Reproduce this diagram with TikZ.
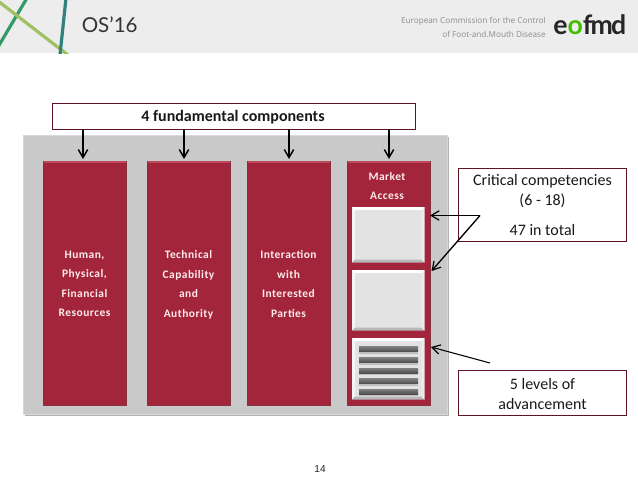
\documentclass[tikz,border=0pt]{standalone}
\usepackage{fontspec}
\setmainfont{Carlito}
\newfontfamily\hdfont{Lato}
\newfontfamily\subfont{Open Sans}
\newfontfamily\numfont{Liberation Sans}
\usetikzlibrary{arrows.meta,calc}
\definecolor{crimson}{HTML}{A3253B}
\definecolor{crimsonlt}{HTML}{BC4A5C}
\definecolor{crimsondk}{HTML}{84303F}
\definecolor{panel}{HTML}{C9C9C9}
\definecolor{panellt}{HTML}{D8D8D8}
\definecolor{panelsh}{HTML}{B4B4B4}
\definecolor{wbox}{HTML}{E3E3E3}
\definecolor{barc}{HTML}{575757}
\definecolor{frame}{HTML}{5E1420}
\definecolor{hdr}{HTML}{EDEDED}
\tikzset{
  colbox/.style={fill=crimson,draw=crimsondk,line width=0.6pt,minimum width=62.25pt,minimum height=183pt,inner sep=0pt,anchor=north west},
  collabel/.style={text=white!92!red,font=\fontsize{8.6}{14.6}\selectfont\bfseries\addfontfeatures{LetterSpace=4},align=center},
  wh/.style={fill=wbox,draw=none,minimum width=54pt,inner sep=0pt,anchor=north west},
  callout/.style={draw=frame,fill=white,line width=0.7pt,inner sep=0pt,anchor=north west},
  calltext/.style={font=\fontsize{12}{15}\selectfont,align=center,text=black!90},
  arr/.style={-{Straight Barb[length=6pt,width=7pt,line width=1.1pt]},line width=1.1pt,black},
  thinarr/.style={-{Straight Barb[length=6pt,width=7pt,line width=0.9pt]},line width=0.8pt,black},
}
\begin{document}
\begin{tikzpicture}[x=0.75pt,y=-0.75pt]
\useasboundingbox (0,0) rectangle (638,479);
\fill[white] (0,0) rectangle (638,479);
% header band
\fill[hdr] (0,0) rectangle (638,53);
\begin{scope}
\clip (0,0) rectangle (638,53);
\draw[line width=2.4pt,color=green!35!teal!60!gray] (27,-2) -- (-2,47);
\draw[line width=2.4pt,color=olive!55!green!60] (-2,1) -- (68,55);
\draw[line width=2.4pt,color=teal!60!gray] (66,-2) -- (60,55);
\end{scope}
\node[font=\fontsize{15.4}{18}\selectfont\hdfont,text=black!80,anchor=west,inner sep=0pt] (os) at (81.5,25) {OS’16};
\node[font=\fontsize{6.15}{10.4}\selectfont\subfont,text=black!45,align=right,anchor=east,inner sep=0pt] (ec) at (546,27) {European Commission for the Control\\of Foot-and.Mouth Disease};
\node[font=\fontsize{20}{21}\selectfont\hdfont\bfseries,text=black!85,anchor=west,inner sep=0pt] (logo) at (553,25) {\addfontfeatures{LetterSpace=-7}e\textcolor{green!50!olive}{o}fmd};
% grey panel
\fill[panelsh] (25,137) rectangle (449,416);
\node[fill=panel,draw=panellt,line width=0.8pt,minimum width=318pt,minimum height=209.5pt,inner sep=0pt,anchor=north west] (panelbox) at (23,135) {};
% columns
\node[colbox] (c1) at (43,161) {};
\node[colbox] (c2) at (147,161) {};
\node[colbox] (c3) at (247,161) {};
\node[colbox] (c4) at (347,161) {};
\foreach \n in {c1,c2,c3,c4}{
  \draw[crimsonlt,line width=1.1pt] ($(\n.north west)+(1,1)$) -- ($(\n.north east)+(-1,1)$);
}
\node[collabel] (l1) at (84.5,284) {Human,\\Physical,\\Financial\\Resources};
\node[collabel] (l2) at (188.5,285) {Technical\\Capability\\and\\Authority};
\node[collabel] (l3) at (288.5,284) {Interaction\\with\\Interested\\Parties};
\node[collabel] (l4) at (387,186) {Market\\Access};
% white boxes
\foreach \nm/\ya/\h in {w1/207/41.25pt,w2/270/45pt,w3/338/45.75pt}{
  \node[wh,minimum height=\h] (\nm) at (352,\ya) {};
  \fill[white] (\nm.north west) -- (\nm.north east) -- ($(\nm.north east)+(-3,3)$) -- ($(\nm.north west)+(3,3)$) -- cycle;
  \fill[white!92!gray] (\nm.north west) -- (\nm.south west) -- ($(\nm.south west)+(3,-3)$) -- ($(\nm.north west)+(3,3)$) -- cycle;
  \fill[black!28] (\nm.south west) -- (\nm.south east) -- ($(\nm.south east)+(-3,-3)$) -- ($(\nm.south west)+(3,-3)$) -- cycle;
  \fill[white!85!gray] (\nm.north east) -- (\nm.south east) -- ($(\nm.south east)+(-3,-3)$) -- ($(\nm.north east)+(-3,3)$) -- cycle;
}
\foreach \yy in {349,360,370.5,381,391.5}{
  \fill[black!25] (359,\yy+2.5) rectangle (418,\yy+4.5);
  \shade[top color=black!50,bottom color=barc!90!black] (359,\yy-2.5) rectangle (418,\yy+2.5);
}
% top box
\node[callout,minimum width=272.25pt,minimum height=19.5pt] (top) at (52,103) {};
\node[font=\fontsize{12}{14}\selectfont\bfseries,text=black!90] (toplabel) at (233,117) {4 fundamental components};
% right boxes
\node[callout,minimum width=126pt,minimum height=54.75pt] (crit) at (458,168) {};
\node[calltext] (critlabel) at (542.5,191.5) {Critical competencies\\(6 - 18)};
\node[calltext] (crittotal) at (542.5,230) {47 in total};
\node[callout,minimum width=126pt,minimum height=33.75pt] (five) at (458,370) {};
\node[calltext,font=\fontsize{12}{14.5}\selectfont] (fivelabel) at (542.5,394) {5 levels of\\advancement};
% arrows
\foreach \x/\t in {83/a1,184/a2,289/a3,389/a4}{
  \coordinate (s\t) at (\x,129);
  \coordinate (e\t) at (\x,159);
  \draw[arr] (s\t) -- (e\t);
}
\coordinate (hub) at (480,215.5);
\coordinate (t1) at (430,215.5);
\coordinate (t2) at (431.5,271);
\coordinate (lvs) at (490,363);
\coordinate (lve) at (431,347);
\draw[thinarr] (hub) -- (t1);
\draw[thinarr,line width=1pt] (hub) -- (t2);
\draw[thinarr] (lvs) -- (lve);
% page number
\node[font=\fontsize{7.6}{9}\selectfont\numfont,text=black!85] (pg) at (320,469) {14};
\end{tikzpicture}
\end{document}
